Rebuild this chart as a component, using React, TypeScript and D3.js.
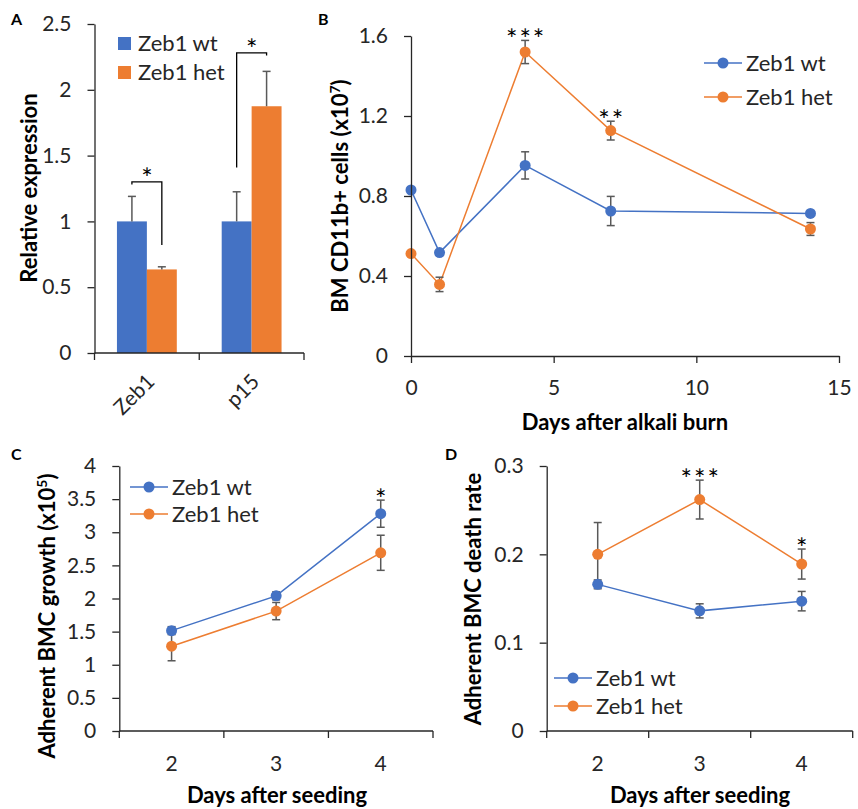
import React, { useEffect, useRef } from 'react';
import * as d3 from 'd3';

const W = 858;
const H = 809;
const BLUE = '#4472C4';
const ORANGE = '#ED7D31';
const ERR = '#595959';
const AXIS = '#262626';
const TEXT = '#262626';
const FONT = 'Lato, "Open Sans", sans-serif';
const TICK_FS = 21;
const LEGEND_FS = 22;
const TITLE_FS = 22;
const STAR_FS = 27;

// A: relative expression (bars)
const exprGenes = ['Zeb1', 'p15'];
const exprWt = [1.0, 1.0];
const exprWtErr = [0.19, 0.225];
const exprHet = [0.635, 1.875];
const exprHetErr = [0.02, 0.265];
const exprTicks = [0, 0.5, 1, 1.5, 2, 2.5];
// significance brackets: top level, wt leg end, het leg end
const bracketTop = [1.3, 2.28];
const bracketWtEnd = [1.28, 1.41];
const bracketHetEnd = [0.82, 2.26];

// B: BM CD11b+ cells after alkali burn
const burnDays = [0, 1, 4, 7, 14];
const burnWt = [0.83, 0.517, 0.953, 0.725, 0.713];
const burnWtErr = [0, 0, 0.068, 0.073, 0.01];
const burnHet = [0.512, 0.358, 1.52, 1.127, 0.635];
const burnHetErr = [0, 0.036, 0.058, 0.047, 0.032];
const burnStars = ['', '', '***', '**', ''];
const burnYTicks = [0, 0.4, 0.8, 1.2, 1.6];
const burnXTicks = [0, 5, 10, 15];

// C: adherent BMC growth
const seedDays = ['2', '3', '4'];
const growthWt = [1.515, 2.04, 3.28];
const growthWtErr = [0.06, 0.06, 0.205];
const growthHet = [1.28, 1.81, 2.69];
const growthHetErr = [0.22, 0.13, 0.265];
const growthStars = ['', '', '*'];
const growthTicks = [0, 0.5, 1, 1.5, 2, 2.5, 3, 3.5, 4];

// D: adherent BMC death rate
const deathWt = [0.166, 0.136, 0.147];
const deathWtErr = [0.005, 0.008, 0.011];
const deathHet = [0.2, 0.262, 0.189];
const deathHetErr = [0.036, 0.022, 0.017];
const deathStars = ['', '***', '*'];
const deathTicks = [0, 0.1, 0.2, 0.3];

const styleAxis = (g) => {
    g.attr('font-size', TICK_FS).attr('font-family', FONT);
    g.select('.domain').attr('stroke', AXIS).attr('stroke-width', 1.3);
    g.selectAll('.tick line').attr('stroke', AXIS).attr('stroke-width', 1.3);
    g.selectAll('.tick text').attr('fill', TEXT);
};

const yAxis = (svg, y, x0, ticks) => {
    const g = svg.append('g')
        .attr('transform', `translate(${x0},0)`)
        .call(d3.axisLeft(y).tickValues(ticks).tickSize(7).tickSizeOuter(0).tickPadding(16).tickFormat((d) => String(d)));
    styleAxis(g);
};

// category axis: ticks sit between the bands like in Excel
const bandAxis = (svg, x, y0, showLabels) => {
    const g = svg.append('g').attr('transform', `translate(0,${y0})`);
    const [r0, r1] = x.range();
    g.append('line').attr('x1', r0).attr('x2', r1).attr('stroke', AXIS).attr('stroke-width', 1.3);
    const bounds = x.domain().map((d) => x(d) + x.bandwidth() / 2 - x.step() / 2);
    bounds.push(bounds[bounds.length - 1] + x.step());
    g.selectAll('.btick').data(bounds).enter().append('line')
        .attr('x1', (d) => d).attr('x2', (d) => d)
        .attr('y1', 0).attr('y2', 7)
        .attr('stroke', AXIS).attr('stroke-width', 1.3);
    if (showLabels) {
        g.selectAll('.blabel').data(x.domain()).enter().append('text')
            .attr('x', (d) => x(d) + x.bandwidth() / 2)
            .attr('y', 40)
            .attr('text-anchor', 'middle')
            .attr('font-family', FONT).attr('font-size', TICK_FS).attr('fill', TEXT)
            .text((d) => d);
    }
};

const yTitle = (svg, x, y, parts) => {
    const t = svg.append('text')
        .attr('transform', `translate(${x},${y}) rotate(-90)`)
        .attr('text-anchor', 'middle')
        .attr('font-family', FONT).attr('font-size', TITLE_FS).attr('font-weight', 'bold').attr('fill', '#000');
    parts.forEach((p) => {
        const s = t.append('tspan').text(p.text);
        if (p.sup) s.attr('baseline-shift', 'super').attr('font-size', 14);
    });
};

const xTitle = (svg, x, y, text) => {
    svg.append('text').attr('x', x).attr('y', y)
        .attr('text-anchor', 'middle')
        .attr('font-family', FONT).attr('font-size', TITLE_FS).attr('font-weight', 'bold').attr('fill', '#000')
        .text(text);
};

const panelLabel = (svg, x, y, text) => {
    svg.append('text').attr('x', x).attr('y', y)
        .attr('font-family', FONT).attr('font-size', 16).attr('font-weight', 'bold').attr('fill', '#000')
        .text(text);
};

const errorBar = (svg, cx, yTop, yBot) => {
    svg.append('line').attr('x1', cx).attr('x2', cx).attr('y1', yTop).attr('y2', yBot)
        .attr('stroke', ERR).attr('stroke-width', 1.5);
    [yTop, yBot].forEach((yy) => {
        svg.append('line').attr('x1', cx - 4).attr('x2', cx + 4).attr('y1', yy).attr('y2', yy)
            .attr('stroke', ERR).attr('stroke-width', 1.5);
    });
};

const lineLegend = (svg, x, y, label, color) => {
    svg.append('line').attr('x1', x).attr('x2', x + 38).attr('y1', y).attr('y2', y)
        .attr('stroke', color).attr('stroke-width', 1.5);
    svg.append('circle').attr('cx', x + 19).attr('cy', y).attr('r', 5.5).attr('fill', color);
    svg.append('text').attr('x', x + 42).attr('y', y + 8)
        .attr('font-family', FONT).attr('font-size', LEGEND_FS).attr('fill', TEXT)
        .text(label);
};

// line chart with error bars, markers and star annotations
const drawSeries = (svg, xs, series, y) => {
    series.forEach((s) => {
        const line = d3.line().x((d, i) => xs[i]).y((d) => y(d));
        svg.append('path').datum(s.values).attr('d', line)
            .attr('fill', 'none').attr('stroke', s.color).attr('stroke-width', 1.5);
    });
    series.forEach((s) => {
        s.values.forEach((v, i) => {
            if (s.errs[i] > 0) errorBar(svg, xs[i], y(v + s.errs[i]), y(v - s.errs[i]));
        });
    });
    series.forEach((s) => {
        svg.selectAll(null).data(s.values).enter().append('circle')
            .attr('cx', (d, i) => xs[i]).attr('cy', (d) => y(d))
            .attr('r', 5.5).attr('fill', s.color);
    });
};

const drawStars = (svg, xs, stars, tops, y) => {
    stars.forEach((s, i) => {
        if (!s) return;
        svg.append('text').attr('x', xs[i] + 1).attr('y', y(tops[i]) + 9)
            .attr('text-anchor', 'middle')
            .attr('font-family', FONT).attr('font-size', STAR_FS).attr('letter-spacing', 2).attr('fill', '#000')
            .text(s);
    });
};

const drawPanelA = (svg) => {
    const x0 = d3.scaleBand().domain(exprGenes).range([94.5, 304]).paddingInner(0.4286).paddingOuter(0.2143);
    const x1 = d3.scaleBand().domain(['wt', 'het']).range([0, x0.bandwidth()]);
    const y = d3.scaleLinear().domain([0, 2.5]).range([353, 24]);

    exprGenes.forEach((g, i) => {
        const groups = [
            { key: 'wt', v: exprWt[i], e: exprWtErr[i], c: BLUE },
            { key: 'het', v: exprHet[i], e: exprHetErr[i], c: ORANGE },
        ];
        groups.forEach((b) => {
            const bx = x0(g) + x1(b.key);
            svg.append('rect').attr('x', bx).attr('y', y(b.v))
                .attr('width', x1.bandwidth()).attr('height', y(0) - y(b.v)).attr('fill', b.c);
            const cx = bx + x1.bandwidth() / 2;
            svg.append('line').attr('x1', cx).attr('x2', cx).attr('y1', y(b.v)).attr('y2', y(b.v + b.e))
                .attr('stroke', ERR).attr('stroke-width', 1.5);
            svg.append('line').attr('x1', cx - 4).attr('x2', cx + 4).attr('y1', y(b.v + b.e)).attr('y2', y(b.v + b.e))
                .attr('stroke', ERR).attr('stroke-width', 1.5);
        });
        // significance bracket
        const wx = x0(g) + x1('wt') + x1.bandwidth() / 2;
        const hx = x0(g) + x1('het') + x1.bandwidth() / 2;
        const path = d3.path();
        path.moveTo(wx, y(bracketWtEnd[i]));
        path.lineTo(wx, y(bracketTop[i]));
        path.lineTo(hx, y(bracketTop[i]));
        path.lineTo(hx, y(bracketHetEnd[i]));
        svg.append('path').attr('d', path.toString()).attr('fill', 'none').attr('stroke', '#000').attr('stroke-width', 1.3);
        svg.append('text').attr('x', (wx + hx) / 2).attr('y', y(bracketTop[i]) + 6)
            .attr('text-anchor', 'middle')
            .attr('font-family', FONT).attr('font-size', STAR_FS).attr('fill', '#000')
            .text('*');
    });

    yAxis(svg, y, 94.5, exprTicks);
    bandAxis(svg, x0, 353, false);
    exprGenes.forEach((g) => {
        const cx = x0(g) + x0.bandwidth() / 2;
        svg.append('text')
            .attr('transform', `translate(${cx + 9},${383}) rotate(-45)`)
            .attr('text-anchor', 'end')
            .attr('font-family', FONT).attr('font-size', TICK_FS).attr('fill', TEXT)
            .text(g);
    });

    // legend
    [{ l: 'Zeb1 wt', c: BLUE }, { l: 'Zeb1 het', c: ORANGE }].forEach((d, i) => {
        svg.append('rect').attr('x', 118).attr('y', 37 + i * 29).attr('width', 13).attr('height', 13).attr('fill', d.c);
        svg.append('text').attr('x', 138).attr('y', 51 + i * 29)
            .attr('font-family', FONT).attr('font-size', LEGEND_FS).attr('fill', TEXT).text(d.l);
    });

    yTitle(svg, 37, 188, [{ text: 'Relative expression' }]);
    panelLabel(svg, 11, 25, 'A');
};

const drawPanelB = (svg) => {
    const x = d3.scaleLinear().domain([0, 15]).range([411, 839]);
    const y = d3.scaleLinear().domain([0, 1.6]).range([356, 36]);
    const xs = burnDays.map((d) => x(d));

    drawSeries(svg, xs, [
        { values: burnWt, errs: burnWtErr, color: BLUE },
        { values: burnHet, errs: burnHetErr, color: ORANGE },
    ], y);
    drawStars(svg, xs, burnStars, burnHet.map((v, i) => v + burnHetErr[i]), y);

    yAxis(svg, y, 411, burnYTicks);
    const g = svg.append('g').attr('transform', 'translate(0,356)')
        .call(d3.axisBottom(x).tickValues(burnXTicks).tickSize(7).tickSizeOuter(0).tickPadding(17));
    styleAxis(g);

    lineLegend(svg, 704, 63, 'Zeb1 wt', BLUE);
    lineLegend(svg, 704, 97, 'Zeb1 het', ORANGE);

    yTitle(svg, 348, 196, [{ text: 'BM CD11b+ cells (x10' }, { text: '7', sup: true }, { text: ')' }]);
    xTitle(svg, 625, 430, 'Days after alkali burn');
    panelLabel(svg, 318, 25, 'B');
};

const drawPanelC = (svg) => {
    const x = d3.scaleBand().domain(seedDays).range([119.3, 433]);
    const y = d3.scaleLinear().domain([0, 4]).range([731, 466]);
    const xs = seedDays.map((d) => x(d) + x.bandwidth() / 2);

    drawSeries(svg, xs, [
        { values: growthWt, errs: growthWtErr, color: BLUE },
        { values: growthHet, errs: growthHetErr, color: ORANGE },
    ], y);
    drawStars(svg, xs, growthStars, growthWt.map((v, i) => v + growthWtErr[i]), y);

    yAxis(svg, y, 119.3, growthTicks);
    bandAxis(svg, x, 731, true);

    lineLegend(svg, 130, 487, 'Zeb1 wt', BLUE);
    lineLegend(svg, 130, 514, 'Zeb1 het', ORANGE);

    yTitle(svg, 55, 616, [{ text: 'Adherent BMC growth (x10' }, { text: '5', sup: true }, { text: ')' }]);
    xTitle(svg, 277, 803, 'Days after seeding');
    panelLabel(svg, 11, 460, 'C');
};

const drawPanelD = (svg) => {
    const x = d3.scaleBand().domain(seedDays).range([546.7, 852.7]);
    const y = d3.scaleLinear().domain([0, 0.3]).range([731, 466]);
    const xs = seedDays.map((d) => x(d) + x.bandwidth() / 2);

    drawSeries(svg, xs, [
        { values: deathWt, errs: deathWtErr, color: BLUE },
        { values: deathHet, errs: deathHetErr, color: ORANGE },
    ], y);
    drawStars(svg, xs, deathStars, deathHet.map((v, i) => v + deathHetErr[i]), y);

    yAxis(svg, y, 546.7, deathTicks);
    bandAxis(svg, x, 731, true);

    lineLegend(svg, 554, 678, 'Zeb1 wt', BLUE);
    lineLegend(svg, 554, 706, 'Zeb1 het', ORANGE);

    yTitle(svg, 481, 599, [{ text: 'Adherent BMC death rate' }]);
    xTitle(svg, 700, 803, 'Days after seeding');
    panelLabel(svg, 445, 460, 'D');
};

export default function App() {
    const ref = useRef(null);

    useEffect(() => {
        const svg = d3.select(ref.current);
        svg.selectAll('*').remove();
        drawPanelA(svg);
        drawPanelB(svg);
        drawPanelC(svg);
        drawPanelD(svg);
    }, []);

    return (
        <svg ref={ref} width={W} height={H}
            style={{ position: 'absolute', left: 0, top: 0, background: '#fff' }} />
    );
}
